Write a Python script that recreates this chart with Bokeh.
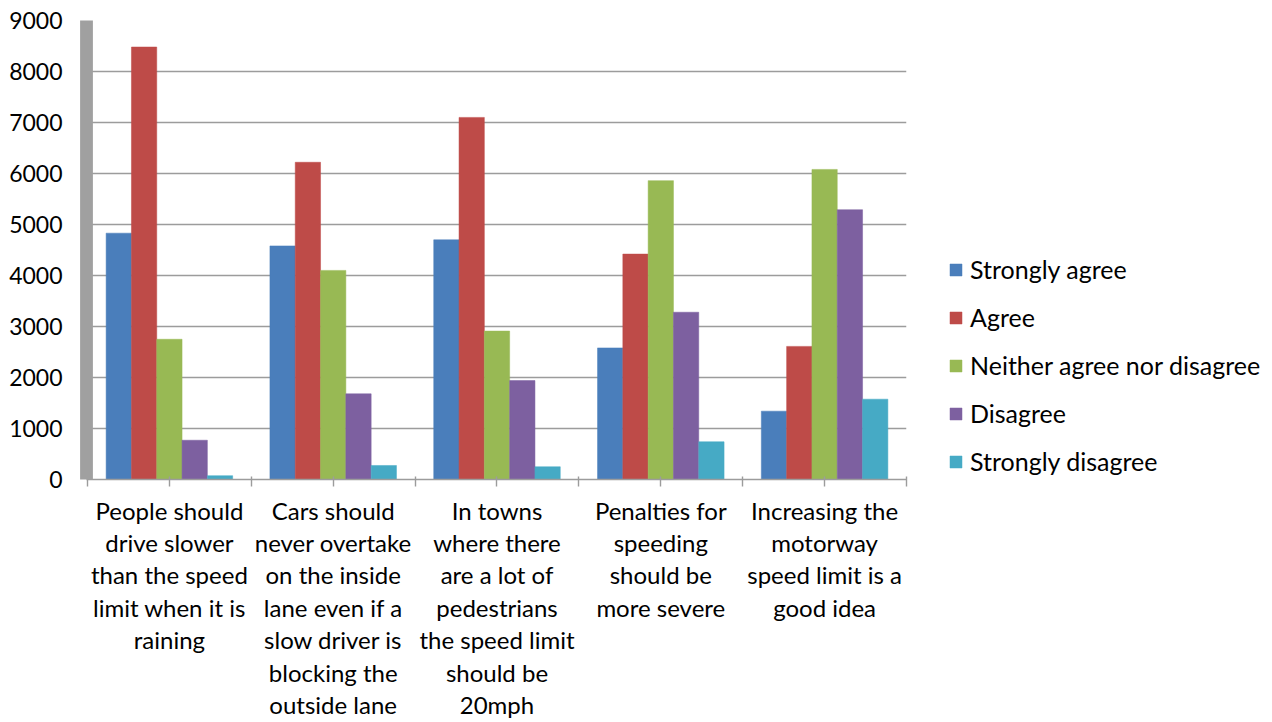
from bokeh.plotting import figure
from bokeh.models import (ColumnDataSource, Range1d, FixedTicker, Legend, LegendItem,
                          SingleIntervalTicker)
from bokeh.transform import dodge
from bokeh.embed import file_html
from bokeh.resources import INLINE

# Survey statements (tick labels, wrapped as shown under each group)
categories = [
    "People should\ndrive slower\nthan the speed\nlimit when it is\nraining",
    "Cars should\nnever overtake\non the inside\nlane even if a\nslow driver is\nblocking the\noutside lane",
    "In towns\nwhere there\nare a lot of\npedestrians\nthe speed limit\nshould be\n20mph",
    "Penalties for\nspeeding\nshould be\nmore severe",
    "Increasing the\nmotorway\nspeed limit is a\ngood idea",
]

series_names = ["Strongly agree", "Agree", "Neither agree nor disagree",
                "Disagree", "Strongly disagree"]

strongly_agree = [4830, 4580, 4700, 2580, 1340]
agree = [8480, 6220, 7100, 4420, 2610]
neither = [2750, 4100, 2910, 5860, 6080]
disagree = [770, 1680, 1940, 3280, 5290]
strongly_disagree = [75, 275, 250, 740, 1575]

y_ticks_step = 1000
y_max = 9000

colors = ["#4A7EBB", "#BE4B48", "#98B954", "#7D60A0", "#46AAC5"]
FONT = "Lato"
GRID = "#9c9c9c"

n = len(categories)
centers = [i + 0.5 for i in range(n)]
data = dict(x=centers, s0=strongly_agree, s1=agree, s2=neither,
            s3=disagree, s4=strongly_disagree)
source = ColumnDataSource(data)

p = figure(frame_width=820, frame_height=459, output_backend="svg", toolbar_location=None,
           x_range=Range1d(-0.0061, n), y_range=Range1d(0, y_max),
           min_border_left=86, min_border_right=0, min_border_top=20,
           min_border_bottom=243)
p.outline_line_color = None
p.background_fill_color = "white"
p.border_fill_color = "white"

bar_w = 0.1545
renderers = []
for k, name in enumerate(series_names):
    r = p.vbar(x=dodge("x", (k - 2) * bar_w, range=p.x_range), top=f"s{k}",
               width=bar_w, source=source, fill_color=colors[k],
               line_color=colors[k], line_width=0.5)
    renderers.append(r)

# value axis: thick grey wall on the left, no ticks
yax = p.yaxis[0]
yax.ticker = SingleIntervalTicker(interval=y_ticks_step)
yax.axis_line_color = "#a0a0a0"
yax.axis_line_width = 12.8
yax.major_tick_line_color = None
yax.minor_tick_line_color = None
yax.major_label_standoff = 18
yax.major_label_text_font = FONT
yax.major_label_text_font_size = "23px"
yax.major_label_text_color = "#000000"

p.ygrid.ticker = SingleIntervalTicker(interval=y_ticks_step)
p.ygrid.grid_line_color = GRID
p.ygrid.grid_line_width = 1.4
p.xgrid.grid_line_color = None

# category axis: labels at group centres, tick marks at centres and boundaries
xax = p.xaxis[0]
xax.ticker = FixedTicker(ticks=centers, minor_ticks=list(range(n + 1)))
xax.major_label_overrides = {c: lab for c, lab in zip(centers, categories)}
xax.axis_line_color = GRID
xax.axis_line_width = 1.4
xax.major_tick_line_color = GRID
xax.minor_tick_line_color = GRID
xax.major_tick_line_width = 1.4
xax.minor_tick_line_width = 1.4
xax.major_tick_in = 3
xax.major_tick_out = 7
xax.minor_tick_in = 3
xax.minor_tick_out = 7
xax.major_label_standoff = 9
xax.major_label_text_font = FONT
xax.major_label_text_font_size = "24px"
xax.major_label_text_color = "#000000"
xax.major_label_text_line_height = 1.12
xax.major_label_text_align = "center"

legend = Legend(items=[LegendItem(label=nm, renderers=[r])
                       for nm, r in zip(series_names, renderers)],
                location=(42, 3))
legend.border_line_color = None
legend.background_fill_alpha = 0
legend.padding = 0
legend.margin = 0
legend.glyph_width = 15
legend.glyph_height = 15
legend.label_standoff = 7
legend.spacing = 18
legend.label_text_font = FONT
legend.label_text_font_size = "25px"
legend.label_text_color = "#000000"
p.add_layout(legend, "right")

open("out.html", "w").write(file_html(p, INLINE))
